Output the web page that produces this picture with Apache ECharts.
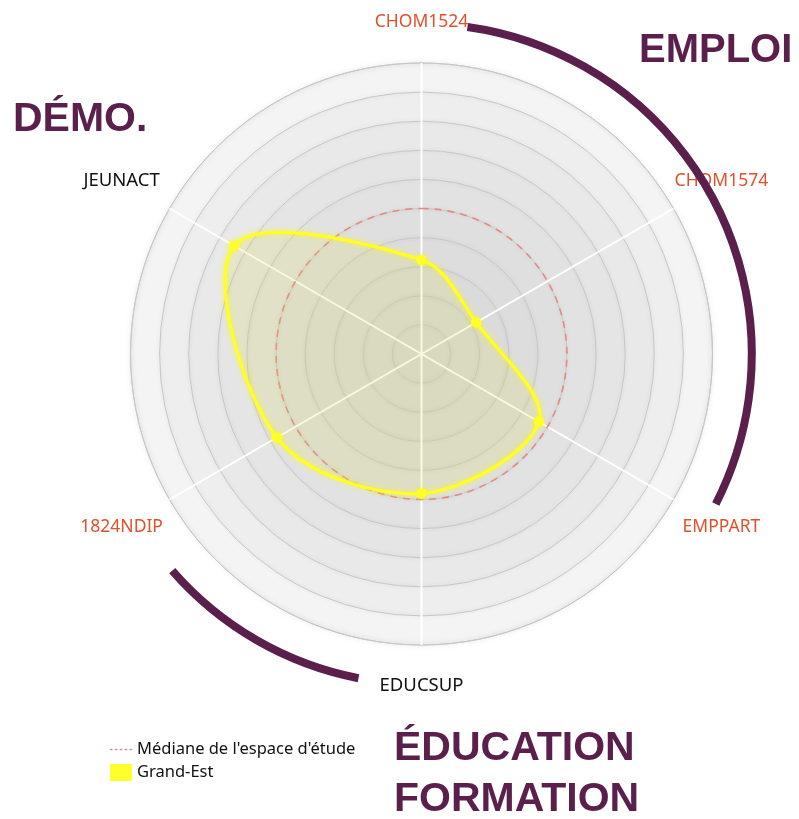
<!DOCTYPE html>
<html>
<head>
<meta charset="utf-8">
<script src="https://cdn.jsdelivr.net/npm/echarts@6/dist/echarts.min.js"></script>
<style>
  html, body { margin: 0; padding: 0; background: #fff; }
  #chart { width: 799px; height: 819px; }
</style>
</head>
<body>
<div id="chart"></div>
<script>
// données
var categories = ['CHOM1524', 'CHOM1574', 'EMPPART', 'EDUCSUP', '1824NDIP', 'JEUNACT'];
var grandEst = [0.323, 0.217, 0.466, 0.479, 0.574, 0.744];
var mediane = [0.5, 0.5, 0.5, 0.5, 0.5, 0.5];
var seriesNames = ['Médiane de l\'espace d\'étude', 'Grand-Est'];

// styles / mise en page
var labelColors = ['#e2502c', '#e2502c', '#e2502c', '#111111', '#e2502c', '#111111'];
var arcSpans = [[8, 117], [191, 229]];   // angles des arcs (degrés depuis le nord)
var ringColors = ['#d9d9d9', '#dadada', '#dbdbdb', '#dddddd', '#dfdfdf', '#e2e2e2', '#e5e5e5', '#e9e9e9', '#eeeeee', '#f4f4f4'];
var purple = '#5b1f4c';
var center = [421.5, 354];
var radius = 291;

var step = 360 / categories.length;
function angleOf(i) { return i * step; }

function toData(values) {
    return values.map(function (v, i) { return [v, angleOf(i)]; });
}

var chart = echarts.init(document.getElementById('chart'), null, {renderer: 'canvas'});

var hidden = {show: false};

var option = {
    animation: false,
    // polaire 0 : fond en anneaux ; polaire 1 : cercles et rayons par-dessus
    polar: [
        {center: center, radius: radius},
        {center: center, radius: radius}
    ],
    angleAxis: [
        {
            polarIndex: 0,
            type: 'value', min: 0, max: 360, interval: 60,
            startAngle: 90, clockwise: true, z: 0,
            axisLine: {show: true, lineStyle: {color: '#d0d0d0', width: 1,
                shadowBlur: 6, shadowColor: 'rgba(0,0,0,0.18)'}},
            axisTick: hidden, axisLabel: hidden, splitLine: hidden
        },
        {
            polarIndex: 1,
            type: 'value', min: 0, max: 360, interval: 60,
            startAngle: 90, clockwise: true, z: 2,
            axisLine: hidden, axisTick: hidden, axisLabel: hidden,
            splitLine: {show: true, lineStyle: {color: '#ffffff', width: 2}}
        }
    ],
    radiusAxis: [
        {
            polarIndex: 0,
            type: 'value', min: 0, max: 1, interval: 0.1, z: 0,
            axisLine: hidden, axisTick: hidden, axisLabel: hidden,
            splitLine: hidden,
            splitArea: {show: true, areaStyle: {color: ringColors}}
        },
        {
            polarIndex: 1,
            type: 'value', min: 0, max: 1, interval: 0.1, z: 1,
            axisLine: hidden, axisTick: hidden, axisLabel: hidden,
            splitLine: {show: true, lineStyle: {color: '#c6c6c6', width: 1,
                shadowBlur: 4, shadowColor: 'rgba(0,0,0,0.12)'}},
            splitArea: hidden
        }
    ],
    legend: {
        orient: 'vertical',
        left: 105,
        top: 736,
        itemWidth: 22,
        itemHeight: 17,
        itemGap: 6,
        selectedMode: false,
        textStyle: {fontFamily: 'Noto Sans', fontSize: 16.5, color: '#111'},
        data: [
            {name: seriesNames[0], icon: 'path://M0 0h3v2h-3zM6 0h3v2h-3zM12 0h3v2h-3zM18 0h3v2h-3zM24 0h3v2h-3z'},
            {name: seriesNames[1], icon: 'rect'}
        ]
    },
    graphic: [
        {type: 'text', x: 639, y: 51, style: {text: 'EMPLOI', font: 'bold 40px "Liberation Sans"', fill: purple, verticalAlign: 'middle'}},
        {type: 'text', x: 13, y: 120, style: {text: 'DÉMO.', font: 'bold 41px "Liberation Sans"', fill: purple, verticalAlign: 'middle'}},
        {type: 'text', x: 394, y: 749, style: {text: 'ÉDUCATION', font: 'bold 41px "Liberation Sans"', fill: purple, verticalAlign: 'middle'}},
        {type: 'text', x: 394, y: 800, style: {text: 'FORMATION', font: 'bold 41px "Liberation Sans"', fill: purple, verticalAlign: 'middle'}}
    ],
    series: [
        {
            // noms des axes
            type: 'custom',
            name: 'noms',
            coordinateSystem: 'polar',
            polarIndex: 0,
            z: 3,
            data: categories.map(function (c, i) {
                return [(i % 3 === 0) ? 1.14 : 1.19, angleOf(i)];
            }),
            renderItem: function (params, api) {
                var i = params.dataIndex;
                var p = api.coord([api.value(0), api.value(1)]);
                var dark = labelColors[i] === '#111111';
                return {
                    type: 'text',
                    x: p[0],
                    y: p[1],
                    style: {
                        text: categories[i],
                        fill: labelColors[i],
                        font: (dark ? '18.5px' : '17.5px') + ' "Noto Sans"',
                        align: 'center',
                        verticalAlign: 'middle'
                    }
                };
            }
        },
        {
            type: 'custom',
            name: seriesNames[0],
            coordinateSystem: 'polar',
            polarIndex: 0,
            z: 4,
            itemStyle: {color: '#e58a80'},
            data: toData(mediane),
            renderItem: function (params, api) {
                if (params.dataIndex !== 0) return null;
                var pts = mediane.map(function (v, i) { return api.coord([v, angleOf(i)]); });
                return {
                    type: 'polygon',
                    shape: {points: pts, smooth: 0.41},
                    style: {fill: 'none', stroke: '#e58a80', lineWidth: 1.6, lineDash: [7, 6]}
                };
            }
        },
        {
            type: 'custom',
            name: seriesNames[1],
            coordinateSystem: 'polar',
            polarIndex: 0,
            z: 5,
            itemStyle: {color: '#ffff2e'},
            data: toData(grandEst),
            renderItem: function (params, api) {
                var children = [];
                if (params.dataIndex === 0) {
                    var pts = grandEst.map(function (v, i) { return api.coord([v, angleOf(i)]); });
                    children.push({
                        type: 'polygon',
                        shape: {points: pts, smooth: 0.34},
                        style: {fill: 'rgba(222,222,70,0.17)', stroke: 'none'}
                    });
                    children.push({
                        type: 'polygon',
                        shape: {points: pts, smooth: 0.34},
                        style: {fill: 'none', stroke: '#ffff26', lineWidth: 3,
                            shadowBlur: 5, shadowColor: 'rgba(255,255,0,0.8)'}
                    });
                }
                var p = api.coord([api.value(0), api.value(1)]);
                children.push({
                    type: 'circle',
                    shape: {cx: p[0], cy: p[1], r: 5},
                    style: {fill: '#ffff26', shadowBlur: 4, shadowColor: 'rgba(255,255,0,0.8)'}
                });
                return {type: 'group', children: children};
            }
        },
        {
            // arcs de regroupement
            type: 'custom',
            name: 'arcs',
            coordinateSystem: 'polar',
            polarIndex: 0,
            z: 6,
            data: arcSpans.map(function (s) { return [1.135, s[0], s[1]]; }),
            renderItem: function (params, api) {
                var c = api.coord([0, 0]);
                var p0 = api.coord([api.value(0), api.value(1)]);
                var p1 = api.coord([api.value(0), api.value(2)]);
                var r = Math.sqrt(Math.pow(p0[0] - c[0], 2) + Math.pow(p0[1] - c[1], 2));
                return {
                    type: 'arc',
                    shape: {
                        cx: c[0], cy: c[1], r: r,
                        startAngle: Math.atan2(p0[1] - c[1], p0[0] - c[0]),
                        endAngle: Math.atan2(p1[1] - c[1], p1[0] - c[0]),
                        clockwise: true
                    },
                    style: {fill: 'none', stroke: purple, lineWidth: 8, lineCap: 'butt'}
                };
            }
        }
    ]
};

chart.setOption(option);
</script>
</body>
</html>
